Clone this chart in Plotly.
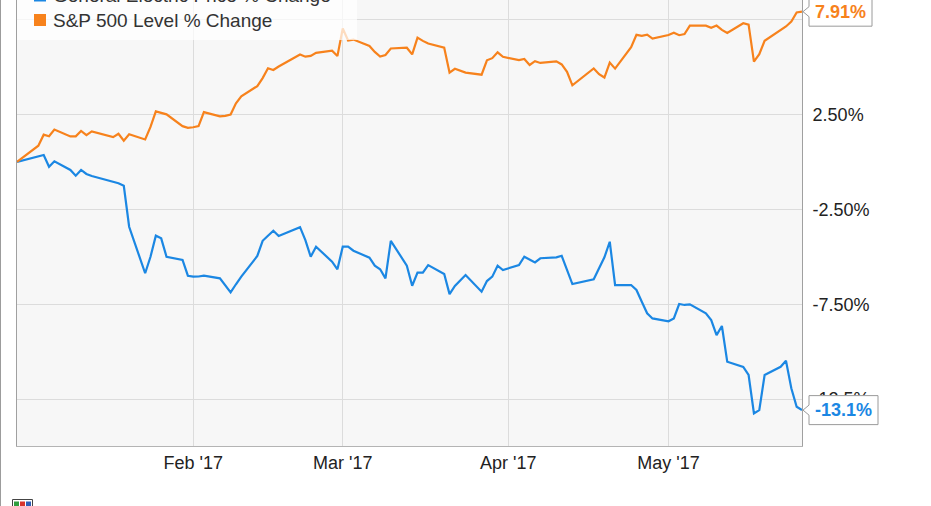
import plotly.graph_objects as go
import pandas as pd

# ---------------- data ----------------
market_holidays = ["2017-01-02", "2017-01-16", "2017-02-20", "2017-04-14"]
trade_dates = [d for d in pd.bdate_range("2016-12-30", "2017-05-26").strftime("%Y-%m-%d")
               if d not in market_holidays]

ge_pct = [
    0.00,
    0.27, 0.36, -0.26, 0.03,
    -0.43, -0.73, -0.43, -0.64, -0.75,
    -1.05, -1.13, -1.26, -3.42,
    -5.87, -5.00, -3.89, -4.03, -5.00,
    -5.17, -6.00,
    -6.05, -6.04, -6.00,
    -6.14, -6.49, -6.88, -6.45, -6.05,
    -4.96, -4.16, -3.89, -3.63, -3.91,
    -3.44, -4.12, -5.00, -4.47,
    -5.26, -5.66,
    -4.47, -4.47, -4.68,
    -5.05, -5.47, -5.66, -6.14, -4.16,
    -5.47, -6.53, -5.84, -5.84, -5.44,
    -5.91, -6.97, -6.54, -6.26, -5.96,
    -6.84, -6.28, -6.05, -5.47, -5.70,
    -5.44, -5.00, -5.17, -5.30, -5.08,
    -5.03, -4.95, -5.70, -6.44,
    -6.19, -5.61, -5.03, -4.21, -6.49,
    -6.49, -6.75, -7.37, -7.98, -8.25,
    -8.40, -8.25, -7.49, -7.54, -7.51,
    -7.98, -8.34, -9.13, -8.65, -10.53,
    -10.80, -11.23, -13.25, -13.08, -11.23,
    -10.80, -10.48, -11.93, -12.90, -13.08,
]

spx_pct = [
    0.00,
    0.85, 1.43, 1.35, 1.70,
    1.34, 1.34, 1.63, 1.41, 1.60,
    1.30, 1.48, 1.11, 1.45,
    1.18, 1.84, 2.66, 2.58, 2.50,
    1.88, 1.79,
    1.82, 1.88, 2.62,
    2.40, 2.42, 2.49, 3.08, 3.45,
    3.99, 4.41, 4.93, 4.84, 5.02,
    5.65, 5.54, 5.58, 5.74,
    5.85, 5.57,
    7.02, 6.39, 6.44,
    6.10, 5.79, 5.55, 5.63, 5.97,
    6.01, 5.66, 6.54, 6.37, 6.23,
    6.01, 4.70, 4.90, 4.79, 4.70,
    4.59, 5.35, 5.46, 5.77, 5.53,
    5.36, 5.42, 5.10, 5.30, 5.21,
    5.29, 5.13, 4.74, 4.03,
    4.92, 4.62, 4.44, 5.23, 4.91,
    6.04, 6.69, 6.64, 6.70, 6.49,
    6.68, 6.80, 6.67, 6.73, 7.17,
    7.17, 7.06, 7.18, 6.95, 6.79,
    7.30, 7.23, 5.28, 5.67, 6.38,
    6.93, 7.13, 7.39, 7.87, 7.91,
]

series_names = ["General Electric Price % Change", "S&P 500 Level % Change"]
end_labels = ["-13.1%", "7.91%"]

ytick_vals = [-12.5, -7.5, -2.5, 2.5, 7.5]
ytick_text = ["-12.5%", "-7.50%", "-2.50%", "2.50%", "7.50%"]
xtick_vals = ["2017-02-01", "2017-03-01", "2017-04-01", "2017-05-01"]
xtick_text = ["Feb '17", "Mar '17", "Apr '17", "May '17"]

# ---------------- style / layout ----------------
W, H = 931, 506
ML, MR, MT, MB = 17, 129, 0, 60
PW, PH = W - ML - MR, H - MT - MB
Y_RANGE = [-14.97, 8.525]
BLUE = "#1b87e3"
ORANGE = "#f7821c"
FONT = "Liberation Sans, Arial, sans-serif"


def px_x(px):
    return (px - ML) / PW


def px_y(py):
    return (H - MB - py) / PH


def val_y(v):
    return (v - Y_RANGE[0]) / (Y_RANGE[1] - Y_RANGE[0])


fig = go.Figure()
fig.add_trace(go.Scatter(x=trade_dates, y=ge_pct, mode="lines", name=series_names[0],
                         line=dict(color=BLUE, width=2.2), showlegend=False))
fig.add_trace(go.Scatter(x=trade_dates, y=spx_pct, mode="lines", name=series_names[1],
                         line=dict(color=ORANGE, width=2.2), showlegend=False))

shapes = []
annotations = []

# legend box (semi transparent, over the lines)
shapes.append(dict(type="rect", xref="paper", yref="paper", layer="above",
                   x0=px_x(17), x1=px_x(357), y0=px_y(40), y1=px_y(-20),
                   fillcolor="rgba(255,255,255,0.72)", line=dict(width=0)))
legend_rows = [(-4.5, BLUE), (20, ORANGE)]
for (cy, col), name in zip(legend_rows, series_names):
    shapes.append(dict(type="rect", xref="paper", yref="paper", layer="above",
                       x0=px_x(34), x1=px_x(46), y0=px_y(cy + 6), y1=px_y(cy - 6),
                       fillcolor=col, line=dict(width=0)))
    annotations.append(dict(text=name, xref="paper", yref="paper", x=px_x(51), y=px_y(cy),
                            xanchor="left", yanchor="middle", showarrow=False,
                            font=dict(family=FONT, size=19, color="#333333")))

# end-value callouts
callouts = [(ge_pct[-1], end_labels[0], BLUE, 76), (spx_pct[-1], end_labels[1], ORANGE, 70)]
for v, txt, col, right in callouts:
    path = (f"M 7,14.5 L {right},14.5 L {right},-14.5 L 7,-14.5 "
            f"L 7,-5 L 1,0 L 7,5 Z")
    shapes.append(dict(type="path", xref="paper", yref="paper", layer="above",
                       xsizemode="pixel", ysizemode="pixel", xanchor=1, yanchor=val_y(v),
                       path=path, fillcolor="white", line=dict(color="#9a9a9a", width=1)))
    annotations.append(dict(text=f"<b>{txt}</b>", xref="paper", yref="y", x=1, y=v,
                            xanchor="center", yanchor="middle", xshift=(7 + right) / 2,
                            showarrow=False, font=dict(family=FONT, size=18, color=col)))

# outer left border of the image
shapes.append(dict(type="line", xref="paper", yref="paper", layer="above",
                   x0=px_x(0.5), x1=px_x(0.5), y0=px_y(0), y1=px_y(H),
                   line=dict(color="#9c9c9c", width=1)))

# small logo at bottom-left
shapes.append(dict(type="rect", xref="paper", yref="paper", layer="above",
                   x0=px_x(12.5), x1=px_x(32.5), y0=px_y(510), y1=px_y(499.5),
                   fillcolor="#ffffff", line=dict(color="#444444", width=1)))
for x0, x1, c in [(14, 19, "#2e9e3e"), (20, 25, "#d8342c"), (26, 31, "#2f5fb8")]:
    shapes.append(dict(type="rect", xref="paper", yref="paper", layer="above",
                       x0=px_x(x0), x1=px_x(x1), y0=px_y(510), y1=px_y(501.5),
                       fillcolor=c, line=dict(width=0)))

fig.update_layout(
    width=W, height=H, autosize=False,
    margin=dict(l=ML, r=MR, t=MT, b=MB, pad=0),
    paper_bgcolor="white", plot_bgcolor="#f7f7f7",
    showlegend=False, hovermode=False,
    shapes=shapes, annotations=annotations,
    xaxis=dict(type="date", range=["2016-12-30", "2017-05-26"],
               tickmode="array", tickvals=xtick_vals, ticktext=xtick_text,
               showgrid=True, gridcolor="#dcdcdc", gridwidth=1,
               showline=True, linecolor="#b4b4b4", linewidth=1,
               ticks="", ticklabelstandoff=0, zeroline=False,
               tickfont=dict(family=FONT, size=18, color="#222222")),
    yaxis=dict(side="right", range=Y_RANGE,
               tickmode="array", tickvals=ytick_vals, ticktext=ytick_text,
               showgrid=True, gridcolor="#dcdcdc", gridwidth=1,
               showline=True, mirror=True, linecolor="#a0a0a0", linewidth=1,
               ticks="", ticklabelstandoff=6, zeroline=False,
               tickfont=dict(family=FONT, size=18, color="#222222")),
)

fig.write_html("out.html", config={"displayModeBar": False},
               post_script="document.body.style.margin='0';document.body.style.overflow='hidden';")
